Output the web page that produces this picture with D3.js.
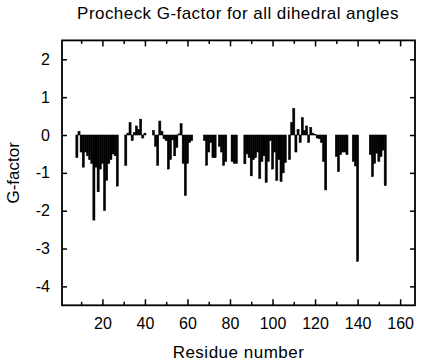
<!DOCTYPE html>
<html>
<head>
<meta charset="utf-8">
<script src="https://cdn.jsdelivr.net/npm/d3@7"></script>
<style>
  html, body { margin: 0; padding: 0; background: #fff; }
  svg { display: block; }
  text { font-family: "Liberation Sans", Arial, Helvetica, sans-serif; fill: #000; }
</style>
</head>
<body>
<svg id="chart" width="421" height="360"></svg>
<script>
// ---- data ----
const residues = [
  8, 9, 10, 11, 12, 13, 14, 15, 16, 17, 18, 19, 20, 21, 22, 23, 24, 25, 26, 27,
  31, 32, 33, 34, 35, 36, 37, 38, 39, 40,
  44, 45, 46, 47, 48, 49, 50, 51, 52, 53, 54, 55, 56, 57, 58, 59, 60, 61, 62,
  68, 69, 70, 71, 72, 73, 75, 76, 77, 78,
  81, 82, 83,
  87, 88, 89, 90, 91, 92, 93, 94, 95, 96, 97, 98, 99, 100, 101, 102, 103, 104, 105, 106,
  108, 109, 110, 111, 112, 113, 114, 115, 116, 117, 118, 119, 120, 121, 122, 123, 124, 125,
  130, 131, 132, 133, 134, 135,
  138, 139, 140,
  146, 147, 148, 149, 150, 151, 152, 153
];
const gFactor = [
  -0.60, 0.10, -0.45, -0.85, -0.45, -0.55, -0.65, -0.75, -2.25, -0.85, -1.50, -0.90, -0.75, -2.00, -1.20, -0.75, -0.65, -0.50, -0.55, -1.35,
  -0.80, 0.05, 0.33, -0.15, 0.07, 0.24, 0.15, 0.42, -0.08, 0.05,
  0.12, -0.30, -0.80, 0.37, 0.10, -0.10, -0.15, -0.90, -0.65, -0.13, -0.55, -0.33, 0.03, 0.30, -0.75, -1.60, -0.75, -0.20, -0.15,
  -0.15, -0.80, -0.45, -0.20, -0.60, -0.60, -0.30, -0.45, -0.80, -0.70,
  -0.70, -0.75, -0.75,
  -0.76, -0.50, -0.60, -1.08, -0.65, -0.60, -0.45, -1.15, -0.70, -0.55, -1.25, -0.70, -0.15, -0.90, -0.45, -1.20, -0.65, -1.23, -1.00, -0.73,
  -0.65, 0.33, 0.70, -0.45, 0.15, -0.20, 0.46, 0.12, 0.24, -0.20, 0.20, 0.05, 0.02, -0.08, -0.10, -0.20, -0.70, -1.45,
  -0.57, -0.97, -0.52, -0.45, -0.45, -0.52,
  -0.70, -0.82, -3.34,
  -0.52, -1.10, -0.75, -0.48, -0.70, -0.57, -0.40, -1.34
];
const xMajorTicks = [20, 40, 60, 80, 100, 120, 140, 160];
const xMinorTicks = [10, 30, 50, 70, 90, 110, 130, 150];
const yTicks = [2, 1, 0, -1, -2, -3, -4];
const titleText = "Procheck G-factor for all dihedral angles";
const xLabel = "Residue number";
const yLabel = "G-factor";

// ---- layout ----
const svg = d3.select("#chart");
const L = 62, R = 415, T = 40.4, B = 305.3;

const x = d3.scaleLinear().domain([1, 167]).range([L, R]);
const y = d3.scaleLinear().domain([-4.5, 2.5]).range([B, T]);
const step = x(2) - x(1);

const data = residues.map((r, i) => ({ r, v: gFactor[i] }));

// bars
svg.append("g")
  .selectAll("rect")
  .data(data)
  .join("rect")
  .attr("x", d => x(d.r) - step / 2)
  .attr("width", step)
  .attr("y", d => Math.min(y(d.v), y(0)))
  .attr("height", d => Math.max(0.8, Math.abs(y(d.v) - y(0))))
  .attr("fill", "#000")
  .attr("stroke", "#000")
  .attr("stroke-width", 0.5);

const tickFont = 16;
const fmt = d => String(d);

// bottom axis (major, labeled)
const gx = svg.append("g").attr("transform", `translate(0,${B})`)
  .call(d3.axisBottom(x).tickValues(xMajorTicks).tickFormat(fmt).tickSizeInner(-6).tickSizeOuter(0).tickPadding(12));
gx.select(".domain").remove();
gx.selectAll("line").attr("stroke", "#000").attr("stroke-width", 1.5);
gx.selectAll("text").attr("font-size", tickFont).attr("font-family", "Liberation Sans, Arial, sans-serif");

// bottom minor
const gxm = svg.append("g").attr("transform", `translate(0,${B})`)
  .call(d3.axisBottom(x).tickValues(xMinorTicks).tickSizeInner(-3.5).tickSizeOuter(0).tickFormat(""));
gxm.select(".domain").remove();
gxm.selectAll("line").attr("stroke", "#000").attr("stroke-width", 1.5);

// top ticks (mirror)
const gt = svg.append("g").attr("transform", `translate(0,${T})`)
  .call(d3.axisTop(x).tickValues(xMajorTicks).tickSizeInner(-6).tickSizeOuter(0).tickFormat(""));
gt.select(".domain").remove();
gt.selectAll("line").attr("stroke", "#000").attr("stroke-width", 1.5);
const gtm = svg.append("g").attr("transform", `translate(0,${T})`)
  .call(d3.axisTop(x).tickValues(xMinorTicks).tickSizeInner(-3.5).tickSizeOuter(0).tickFormat(""));
gtm.select(".domain").remove();
gtm.selectAll("line").attr("stroke", "#000").attr("stroke-width", 1.5);

// left axis
const gy = svg.append("g").attr("transform", `translate(${L},0)`)
  .call(d3.axisLeft(y).tickValues(yTicks).tickFormat(fmt).tickSizeInner(-5).tickSizeOuter(0).tickPadding(12));
gy.select(".domain").remove();
gy.selectAll("line").attr("stroke", "#000").attr("stroke-width", 1.5);
gy.selectAll("text").attr("font-size", tickFont).attr("font-family", "Liberation Sans, Arial, sans-serif");

// right ticks (mirror)
const gr = svg.append("g").attr("transform", `translate(${R},0)`)
  .call(d3.axisRight(y).tickValues(yTicks).tickSizeInner(-5).tickSizeOuter(0).tickFormat(""));
gr.select(".domain").remove();
gr.selectAll("line").attr("stroke", "#000").attr("stroke-width", 1.5);

// frame
svg.append("rect")
  .attr("x", L).attr("y", T)
  .attr("width", R - L).attr("height", B - T)
  .attr("fill", "none").attr("stroke", "#000").attr("stroke-width", 1.8);

// title
svg.append("text")
  .attr("x", 238).attr("y", 18.5)
  .attr("text-anchor", "middle")
  .attr("font-size", 17)
  .attr("letter-spacing", 0.45)
  .text(titleText);

// x label
svg.append("text")
  .attr("x", 238.5).attr("y", 357.5)
  .attr("text-anchor", "middle")
  .attr("font-size", 17)
  .attr("letter-spacing", 0.5)
  .text(xLabel);

// y label
svg.append("text")
  .attr("transform", `translate(19,${(T + B) / 2}) rotate(-90)`)
  .attr("text-anchor", "middle")
  .attr("font-size", 17)
  .text(yLabel);
</script>
</body>
</html>
